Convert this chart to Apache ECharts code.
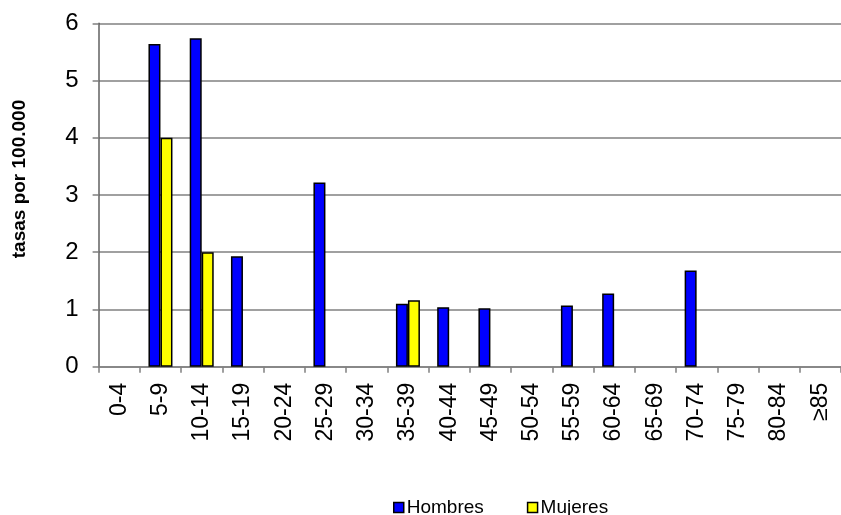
<!DOCTYPE html>
<html>
<head>
<meta charset="utf-8">
<script src="https://cdn.jsdelivr.net/npm/echarts@6/dist/echarts.min.js"></script>
<style>
html,body{margin:0;padding:0;background:#fff;}
#chart{width:841px;height:515px;}
</style>
</head>
<body>
<div id="chart"></div>
<script>
var categories = ['0-4','5-9','10-14','15-19','20-24','25-29','30-34','35-39','40-44','45-49','50-54','55-59','60-64','65-69','70-74','75-79','80-84','≥85'];
var hombres = [null,5.64,5.74,1.93,null,3.22,null,1.10,1.04,1.02,null,1.07,1.28,null,1.68,null,null,null];
var mujeres = [null,4.00,2.00,null,null,null,null,1.16,null,null,null,null,null,null,null,null,null,null];
var yTicks = [0,1,2,3,4,5,6];
var yTitle = 'tasas por 100.000';

var chart = echarts.init(document.getElementById('chart'));
var font = '"Liberation Sans", Arial, sans-serif';
chart.setOption({
  animation: false,
  backgroundColor: '#fff',
  grid: {left: 98.6, right: -11, top: 23.3, bottom: 148.3, containLabel: false},
  graphic: [{
    type: 'text', x: 20, y: 179, rotation: Math.PI / 2,
    style: {text: yTitle, font: 'bold 19px ' + font, fill: '#000', align: 'center', verticalAlign: 'middle'}
  }],
  legend: {
    left: 388, top: 493,
    itemWidth: 10, itemHeight: 10, itemGap: 43,
    textStyle: {fontFamily: font, fontSize: 19, color: '#000', padding: [0,0,0,-2]},
    data: [
      {name: 'Hombres', icon: 'rect', itemStyle: {color: '#0000ff', borderColor: '#000', borderWidth: 1.5}},
      {name: 'Mujeres', icon: 'rect', itemStyle: {color: '#ffff00', borderColor: '#000', borderWidth: 1.5}}
    ]
  },
  xAxis: {
    type: 'category',
    data: categories,
    axisLine: {lineStyle: {color: '#808080', width: 1.5}},
    axisTick: {show: true, length: 6, lineStyle: {color: '#808080', width: 1.5}},
    axisLabel: {rotate: 90, fontFamily: font, fontSize: 23, color: '#000', margin: 16, interval: 0}
  },
  yAxis: {
    type: 'value',
    min: yTicks[0], max: yTicks[yTicks.length-1], interval: 1,
    axisLine: {show: true, lineStyle: {color: '#606060', width: 1.5}},
    axisTick: {show: true, length: 6, lineStyle: {color: '#808080', width: 1.5}},
    axisLabel: {fontFamily: font, fontSize: 24, color: '#000', margin: 20},
    splitLine: {lineStyle: {color: '#808080', width: 1.5}}
  },
  series: [
    {name: 'Hombres', type: 'bar', data: hombres, barWidth: 12, barGap: '0%',
     itemStyle: {color: '#0000ff', borderColor: '#000', borderWidth: 1.5}},
    {name: 'Mujeres', type: 'bar', data: mujeres, barWidth: 12, barGap: '0%',
     itemStyle: {color: '#ffff00', borderColor: '#000', borderWidth: 1.5}}
  ]
});
</script>
</body>
</html>
